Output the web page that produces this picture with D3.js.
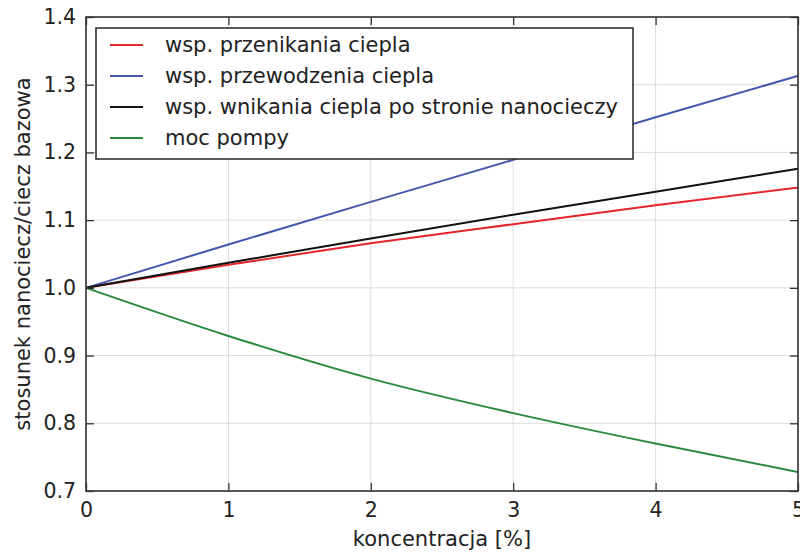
<!DOCTYPE html>
<html>
<head>
<meta charset="utf-8">
<script src="https://cdn.jsdelivr.net/npm/d3@7"></script>
<style>
  body { margin: 0; background: #fff; }
  svg { display: block; font-family: "DejaVu Sans", sans-serif; }
</style>
</head>
<body>
<svg width="800" height="553"></svg>
<script>
// dane
var koncentracja = [0, 1, 2, 3, 4, 5];
var przenikanie = [1.0, 1.034, 1.066, 1.094, 1.122, 1.148];
var przewodzenie = [1.0, 1.064, 1.127, 1.189, 1.252, 1.313];
var wnikanie = [1.0, 1.037, 1.073, 1.108, 1.142, 1.176];
var pompa = [1.0, 0.929, 0.866, 0.815, 0.770, 0.728];

var nazwy = ["wsp. przenikania ciepla", "wsp. przewodzenia ciepla",
             "wsp. wnikania ciepla po stronie nanocieczy", "moc pompy"];
var kolory = ["#e3262c", "#4557aa", "#111111", "#2b8a3e"];
var serie = [przenikanie, przewodzenie, wnikanie, pompa];

var xTicks = [0, 1, 2, 3, 4, 5];
var yTicks = [0.7, 0.8, 0.9, 1.0, 1.1, 1.2, 1.3, 1.4];

var margin = {top: 17, right: 2, bottom: 62, left: 86},
    width = 800 - margin.left - margin.right,
    height = 553 - margin.top - margin.bottom;

var x = d3.scaleLinear().domain([0, 5]).range([0, width]);
var y = d3.scaleLinear().domain([0.7, 1.4]).range([height, 0]);

var svg = d3.select("svg")
  .append("g")
    .attr("transform", "translate(" + margin.left + "," + margin.top + ")");

// siatka
svg.selectAll(".gx").data(xTicks).enter().append("line")
    .attr("x1", d => x(d)).attr("x2", d => x(d))
    .attr("y1", 0).attr("y2", height)
    .style("stroke", "#dcdcdc").style("stroke-width", 1);
svg.selectAll(".gy").data(yTicks).enter().append("line")
    .attr("x1", 0).attr("x2", width)
    .attr("y1", d => y(d)).attr("y2", d => y(d))
    .style("stroke", "#dcdcdc").style("stroke-width", 1);

// linie
var line = d3.line()
    .x(function(d, i) { return x(koncentracja[i]); })
    .y(function(d) { return y(d); })
    .curve(d3.curveMonotoneX);

serie.forEach(function(s, k) {
  svg.append("path")
      .datum(s)
      .attr("d", line)
      .style("fill", "none")
      .style("stroke", kolory[k])
      .style("stroke-width", 2);
});

// osie (ticki do wewnatrz, na wszystkich bokach)
function styl(g) {
  g.select(".domain").remove();
  g.selectAll(".tick line").style("stroke", "#333").style("stroke-width", 1.3);
  g.selectAll(".tick text").style("fill", "#222").style("font-size", "20.5px")
    .style("font-family", "DejaVu Sans, sans-serif");
}
var fmtY = d3.format(".1f");

svg.append("g").attr("transform", "translate(0," + height + ")")
    .call(d3.axisBottom(x).tickValues(xTicks).tickFormat(d3.format("d")).tickSizeInner(-8).tickPadding(11))
    .call(styl);
svg.append("g")
    .call(d3.axisTop(x).tickValues(xTicks).tickSizeInner(-8).tickFormat(""))
    .call(styl);
svg.append("g")
    .call(d3.axisLeft(y).tickValues(yTicks).tickFormat(fmtY).tickSizeInner(-8).tickPadding(10))
    .call(styl);
svg.append("g").attr("transform", "translate(" + width + ",0)")
    .call(d3.axisRight(y).tickValues(yTicks).tickSizeInner(-8).tickFormat(""))
    .call(styl);

svg.append("rect")
    .attr("width", width).attr("height", height)
    .style("fill", "none").style("stroke", "#333").style("stroke-width", 1.6);

// legenda
var leg = svg.append("g").attr("transform", "translate(10,11)");
leg.append("rect")
    .attr("width", 537).attr("height", 131)
    .style("fill", "#fff").style("stroke", "#333").style("stroke-width", 1.6);
nazwy.forEach(function(n, i) {
  var yy = 17 + i * 31;
  leg.append("line")
      .attr("x1", 14).attr("x2", 47).attr("y1", yy).attr("y2", yy)
      .style("stroke", kolory[i]).style("stroke-width", 2);
  leg.append("text")
      .attr("x", 69).attr("y", yy + 7)
      .style("font-size", "21px").style("fill", "#222")
      .text(n);
});

// etykiety osi
svg.append("text")
    .attr("x", width / 2).attr("y", height + 55)
    .attr("text-anchor", "middle")
    .style("font-size", "21px").style("fill", "#222")
    .text("koncentracja [%]");
svg.append("text")
    .attr("transform", "translate(-56," + (height / 2) + ") rotate(-90)")
    .attr("text-anchor", "middle")
    .style("font-size", "21px").style("fill", "#222")
    .text("stosunek nanociecz/ciecz bazowa");
</script>
</body>
</html>
